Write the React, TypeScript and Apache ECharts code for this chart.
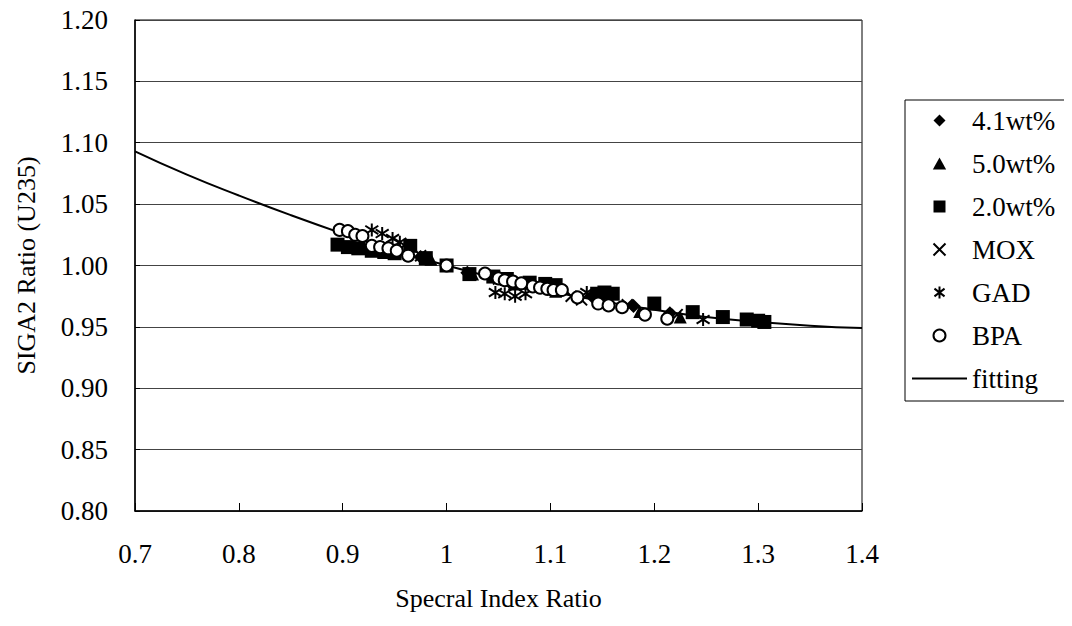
import React, { useEffect, useRef } from "react";
import * as echarts from "echarts";

const xTicks = { min: 0.7, max: 1.4, interval: 0.1 };
const yTicks = { min: 0.8, max: 1.2, interval: 0.05 };

const seriesNames = ["4.1wt%", "5.0wt%", "2.0wt%", "MOX", "GAD", "BPA", "fitting"];

const wt41: number[][] = [
  [0.975, 1.007], [1.02, 0.994], [1.06, 0.987], [1.1, 0.98], [1.14, 0.975], [1.18, 0.967], [1.215, 0.961],
];
const wt50: number[][] = [
  [0.985, 1.005], [1.025, 0.993], [1.065, 0.985], [1.105, 0.979], [1.15, 0.972], [1.186, 0.9625], [1.225, 0.958],
];
const wt20: number[][] = [
  [0.895, 1.017], [0.905, 1.015], [0.915, 1.014], [0.928, 1.012], [0.94, 1.011], [0.95, 1.01],
  [0.965, 1.016], [0.98, 1.006], [1.0, 1.0], [1.022, 0.993], [1.045, 0.991], [1.058, 0.989],
  [1.08, 0.986], [1.095, 0.985], [1.105, 0.984], [1.145, 0.977], [1.152, 0.978], [1.16, 0.977],
  [1.2, 0.969], [1.237, 0.962], [1.266, 0.958], [1.289, 0.956], [1.3, 0.955], [1.306, 0.954],
];
const mox: number[][] = [
  [0.955, 1.013], [0.975, 1.008], [1.05, 0.989], [1.12, 0.975], [1.13, 0.972], [1.174, 0.968], [1.222, 0.96],
];
const gad: number[][] = [
  [0.928, 1.029], [0.938, 1.026], [0.948, 1.022], [0.955, 1.019],
  [1.047, 0.978], [1.056, 0.977], [1.066, 0.975], [1.076, 0.977], [1.135, 0.978], [1.247, 0.956],
];
const bpa: number[][] = [
  [0.897, 1.029], [0.905, 1.028], [0.912, 1.025], [0.919, 1.024], [0.928, 1.016], [0.936, 1.015],
  [0.944, 1.014], [0.952, 1.012], [0.963, 1.008], [1.0, 1.0], [1.037, 0.9935], [1.05, 0.9895],
  [1.056, 0.988], [1.064, 0.987], [1.072, 0.9855], [1.083, 0.983], [1.09, 0.982], [1.097, 0.981],
  [1.103, 0.98], [1.111, 0.98], [1.126, 0.974], [1.146, 0.969], [1.156, 0.9675], [1.169, 0.966],
  [1.191, 0.96], [1.2125, 0.9566],
];
const fitX = [0.7, 0.75, 0.8, 0.85, 0.9, 0.95, 1.0, 1.05, 1.1, 1.15, 1.2, 1.25, 1.3, 1.35, 1.4];
const fitY = [1.093, 1.074, 1.057, 1.041, 1.026, 1.012, 1.0, 0.989, 0.979, 0.971, 0.964, 0.958, 0.954, 0.951, 0.949];

const FONT = "'Liberation Serif', 'Times New Roman', Times, serif";
const FS_LABEL = 27;
const FS_TITLE = 26;
const DIAMOND = "path://M5,0L10,5L5,10L0,5Z";
const TRIANGLE = "path://M5,0L10,9L0,9Z";
const SQUARE = "path://M0,0L10,0L10,10L0,10Z";
const CROSS = "path://M0,0L10,10M10,0L0,10";
const ASTER = "path://M5,0L5,10M0.8,1.8L9.2,8.2M9.2,1.8L0.8,8.2";
const LINEICON = "path://M0,0L55,0L55,2L0,2Z";

export default function App() {
  const ref = useRef<HTMLDivElement>(null);
  useEffect(() => {
    if (!ref.current) return;
    const chart = echarts.init(ref.current, undefined, { renderer: "svg" });
    const fitData = fitX.map((x, i) => [x, fitY[i]]);
    chart.setOption({
      animation: false,
      backgroundColor: "#fff",
      textStyle: { fontFamily: FONT, color: "#000" },
      grid: {
        left: 135,
        right: 210,
        top: 20,
        bottom: 115,
        show: true,
        borderColor: "#000",
        borderWidth: 1,
        backgroundColor: "transparent",
      },
      graphic: [
        {
          type: "rect",
          shape: { x: 905, y: 100, width: 163, height: 301 },
          style: { fill: "#fff", stroke: "#000", lineWidth: 1 },
          z: 1,
        },
      ],
      legend: {
        orient: "vertical",
        left: 907,
        top: 102,
        itemWidth: 55,
        itemHeight: 12,
        itemGap: 16,
        symbolKeepAspect: true,
        data: seriesNames.map((n) =>
          n === "fitting" ? { name: n, icon: LINEICON, itemStyle: { color: "#000" } } : { name: n }
        ),
        textStyle: { fontFamily: FONT, fontSize: FS_LABEL, color: "#000" },
        z: 5,
      },
      xAxis: {
        type: "value",
        min: xTicks.min,
        max: xTicks.max,
        interval: xTicks.interval,
        name: "Specral Index Ratio",
        nameLocation: "middle",
        nameGap: 74,
        nameTextStyle: { fontFamily: FONT, fontSize: FS_TITLE, color: "#000" },
        axisLine: { show: true, onZero: false, lineStyle: { color: "#000", width: 1.5 } },
        axisTick: { show: true, inside: true, length: 8, lineStyle: { color: "#000" } },
        axisLabel: { fontFamily: FONT, fontSize: FS_LABEL, color: "#000", margin: 29 },
        splitLine: { show: false },
      },
      yAxis: {
        type: "value",
        min: yTicks.min,
        max: yTicks.max,
        interval: yTicks.interval,
        name: "SIGA2 Ratio (U235)",
        nameLocation: "middle",
        nameGap: 96,
        nameTextStyle: { fontFamily: FONT, fontSize: FS_TITLE, color: "#000" },
        axisLine: { show: true, onZero: false, lineStyle: { color: "#000", width: 1.5 } },
        axisTick: { show: true, inside: true, length: 5, lineStyle: { color: "#000" } },
        axisLabel: {
          fontFamily: FONT,
          fontSize: FS_LABEL,
          color: "#000",
          margin: 27,
          formatter: (v: number) => v.toFixed(2),
        },
        splitLine: { show: true, lineStyle: { color: "#444", width: 1 } },
      },
      series: [
        {
          name: "fitting",
          type: "line",
          data: fitData,
          smooth: true,
          symbol: "none",
          lineStyle: { color: "#000", width: 2 },
          itemStyle: { color: "#000" },
          z: 1,
        },
        {
          name: "4.1wt%",
          type: "scatter",
          data: wt41,
          symbol: DIAMOND,
          symbolSize: 14,
          itemStyle: { color: "#000", opacity: 1 },
          z: 2,
        },
        {
          name: "5.0wt%",
          type: "scatter",
          data: wt50,
          symbol: TRIANGLE,
          symbolSize: 13,
          itemStyle: { color: "#000", opacity: 1 },
          z: 2,
        },
        {
          name: "2.0wt%",
          type: "scatter",
          data: wt20,
          symbol: SQUARE,
          symbolSize: 14,
          itemStyle: { color: "#000", opacity: 1 },
          z: 2,
        },
        {
          name: "MOX",
          type: "scatter",
          data: mox,
          symbol: CROSS,
          symbolSize: 11,
          itemStyle: { color: "#000", borderColor: "#000", borderWidth: 2, opacity: 1 },
          z: 3,
        },
        {
          name: "GAD",
          type: "scatter",
          data: gad,
          symbol: ASTER,
          symbolSize: 13,
          itemStyle: { color: "#000", borderColor: "#000", borderWidth: 2, opacity: 1 },
          z: 3,
        },
        {
          name: "BPA",
          type: "scatter",
          data: bpa,
          symbol: "circle",
          symbolSize: 12,
          itemStyle: { color: "#fff", borderColor: "#000", borderWidth: 2, opacity: 1 },
          z: 4,
        },
      ],
    });
    return () => chart.dispose();
  }, []);
  return <div ref={ref} style={{ width: 1072, height: 626, margin: -8 }} />;
}
